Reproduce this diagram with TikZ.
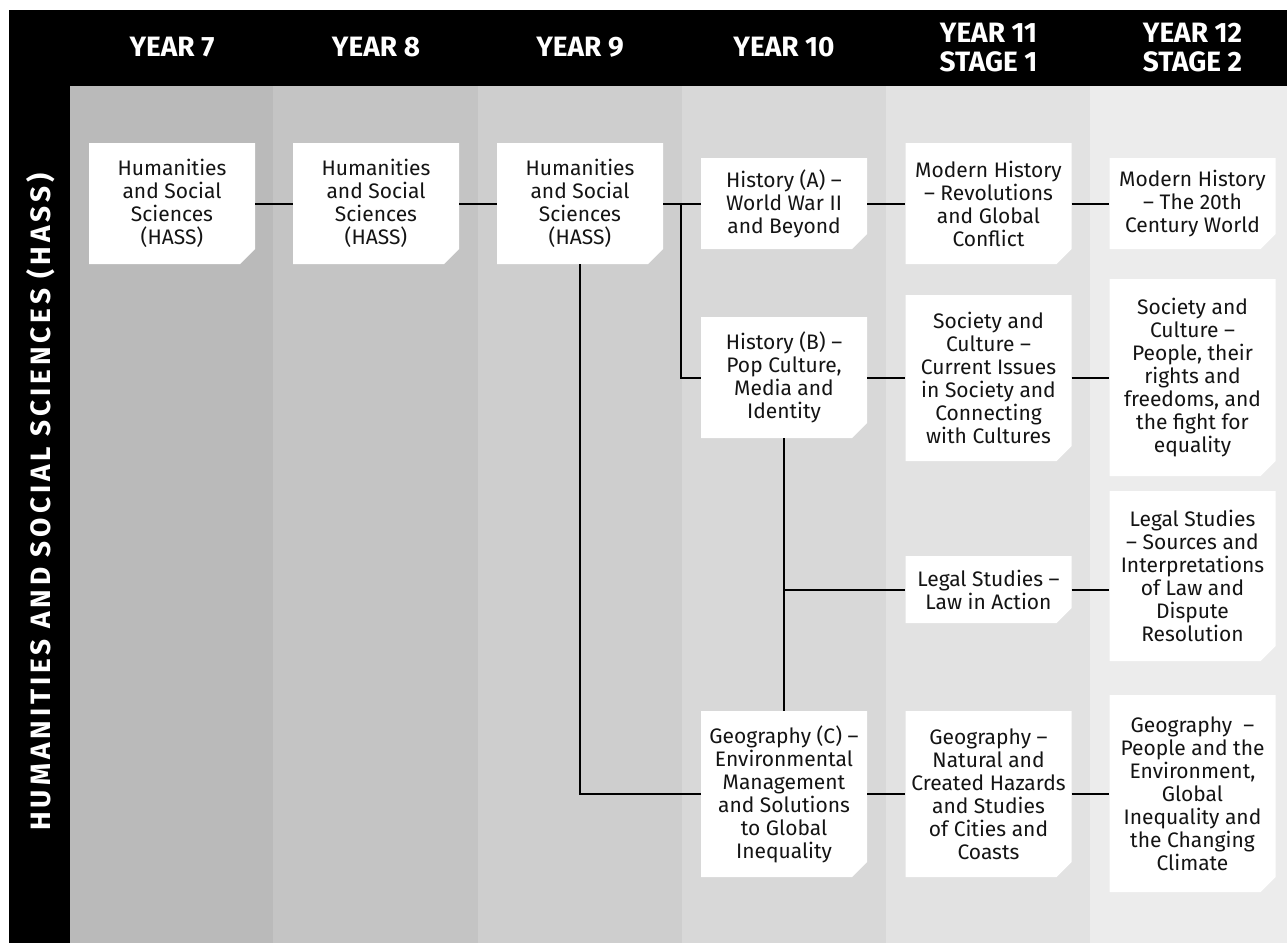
\documentclass[tikz,border=0pt]{standalone}
\usepackage{fontspec}
\setmainfont{Fira Sans}
\newfontfamily\sidefont{Fira Sans}[LetterSpace=14]

\definecolor{colseven}{HTML}{BABABA}
\definecolor{coleight}{HTML}{C4C4C4}
\definecolor{colnine}{HTML}{CECECE}
\definecolor{colten}{HTML}{D8D8D8}
\definecolor{coleleven}{HTML}{E2E2E2}
\definecolor{coltwelve}{HTML}{ECECEC}
\definecolor{inkgray}{HTML}{141414}

\tikzset{
  course/.style={minimum width=166pt, inner sep=0pt, align=center, text=inkgray,
    font={\fontsize{21}{23}\selectfont},
    path picture={\fill[white] (path picture bounding box.north west)
      -- (path picture bounding box.north east)
      -- ([yshift=15pt]path picture bounding box.south east)
      -- ([xshift=-15pt]path picture bounding box.south east)
      -- (path picture bounding box.south west) -- cycle;}},
  yearhead/.style={text=white, align=center, font={\fontsize{28}{29}\selectfont\bfseries}},
  link/.style={line width=2pt, black}
}

\begin{document}
\begin{tikzpicture}[x=1pt, y=-1pt]
  \useasboundingbox (0,0) rectangle (1287,943);

  % Achtergrond en kolommen
  \fill[black] (9,10) rectangle (1287,943);
  \fill[colseven] (70,86) rectangle (273,943);
  \fill[coleight] (273,86) rectangle (478,943);
  \fill[colnine] (478,86) rectangle (682,943);
  \fill[colten] (682,86) rectangle (886,943);
  \fill[coleleven] (886,86) rectangle (1090,943);
  \fill[coltwelve] (1090,86) rectangle (1287,943);

  % Koppen
  \node[yearhead] (hd7) at (172,47.5) {YEAR 7};
  \node[yearhead] (hd8) at (376,47.5) {YEAR 8};
  \node[yearhead] (hd9) at (580,47.5) {YEAR 9};
  \node[yearhead] (hd10) at (784,47.5) {YEAR 10};
  \node[yearhead] (hd11) at (988.5,47.5) {YEAR 11\\STAGE 1};
  \node[yearhead] (hd12) at (1192.5,47.5) {YEAR 12\\STAGE 2};
  \node[rotate=90, text=white, font={\sidefont\bfseries\fontsize{28}{29}\selectfont}] (side) at (41,502)
    {HUMANITIES AND SOCIAL SCIENCES (HASS)};

  % Vakken
  \node[course, minimum height=121pt] (hass7) at (172,203.5) {Humanities\\and Social\\Sciences\\(HASS)};
  \node[course, minimum height=121pt] (hass8) at (376,203.5) {Humanities\\and Social\\Sciences\\(HASS)};
  \node[course, minimum height=121pt] (hass9) at (580,203.5) {Humanities\\and Social\\Sciences\\(HASS)};
  \node[course, minimum height=91pt] (histA) at (784,203.5) {History (A) –\\World War II\\and Beyond};
  \node[course, minimum height=121pt] (histB) at (784,377.5) {History (B) –\\Pop Culture,\\Media and\\Identity};
  \node[course, minimum height=166pt] (geoC) at (784,794) {Geography (C) –\\Environmental\\Management\\and Solutions\\to Global\\Inequality};
  \node[course, minimum height=121pt] (modern11) at (988.5,203.5) {Modern History\\– Revolutions\\and Global\\Conflict};
  \node[course, minimum height=166pt] (society11) at (988.5,378) {Society and\\Culture –\\Current Issues\\in Society and\\Connecting\\with Cultures};
  \node[course, minimum height=67pt] (legal11) at (988.5,589.5) {Legal Studies –\\Law in Action};
  \node[course, minimum height=166pt] (geo11) at (988.5,794) {Geography –\\Natural and\\Created Hazards\\and Studies\\of Cities and\\Coasts};
  \node[course, minimum height=91pt] (modern12) at (1192.5,203.5) {Modern History\\– The 20th\\Century World};
  \node[course, minimum height=197pt] (society12) at (1192.5,377.5) {Society and\\Culture –\\People, their\\rights and\\freedoms, and\\the fight for\\equality};
  \node[course, minimum height=170pt] (legal12) at (1192.5,576) {Legal Studies\\– Sources and\\Interpretations\\of Law and\\Dispute\\Resolution};
  \node[course, minimum height=197pt] (geo12) at (1192.5,793.5) {Geography~ –\\People and the\\Environment,\\Global\\Inequality and\\the Changing\\Climate};

  % Verbindingen
  \coordinate (split) at (681,203.5);
  \draw[link] (hass7) -- (hass8);
  \draw[link] (hass8) -- (hass9);
  \draw[link] (hass9) -- (histA);
  \draw[link] (split) |- (histB.west);
  \draw[link] (hass9.south) |- (geoC.west);
  \draw[link] (histB.south) -- (geoC.north);
  \draw[link] (histB.south |- legal11.west) -- (legal11.west);
  \draw[link] (histA) -- (modern11);
  \draw[link] (modern11) -- (modern11 -| modern12.west);
  \draw[link] (histB) -- (histB -| society11.west);
  \draw[link] (society11) -- (society11 -| society12.west);
  \draw[link] (legal11) -- (legal11 -| legal12.west);
  \draw[link] (geoC) -- (geo11);
  \draw[link] (geo11) -- (geo11 -| geo12.west);
\end{tikzpicture}
\end{document}
